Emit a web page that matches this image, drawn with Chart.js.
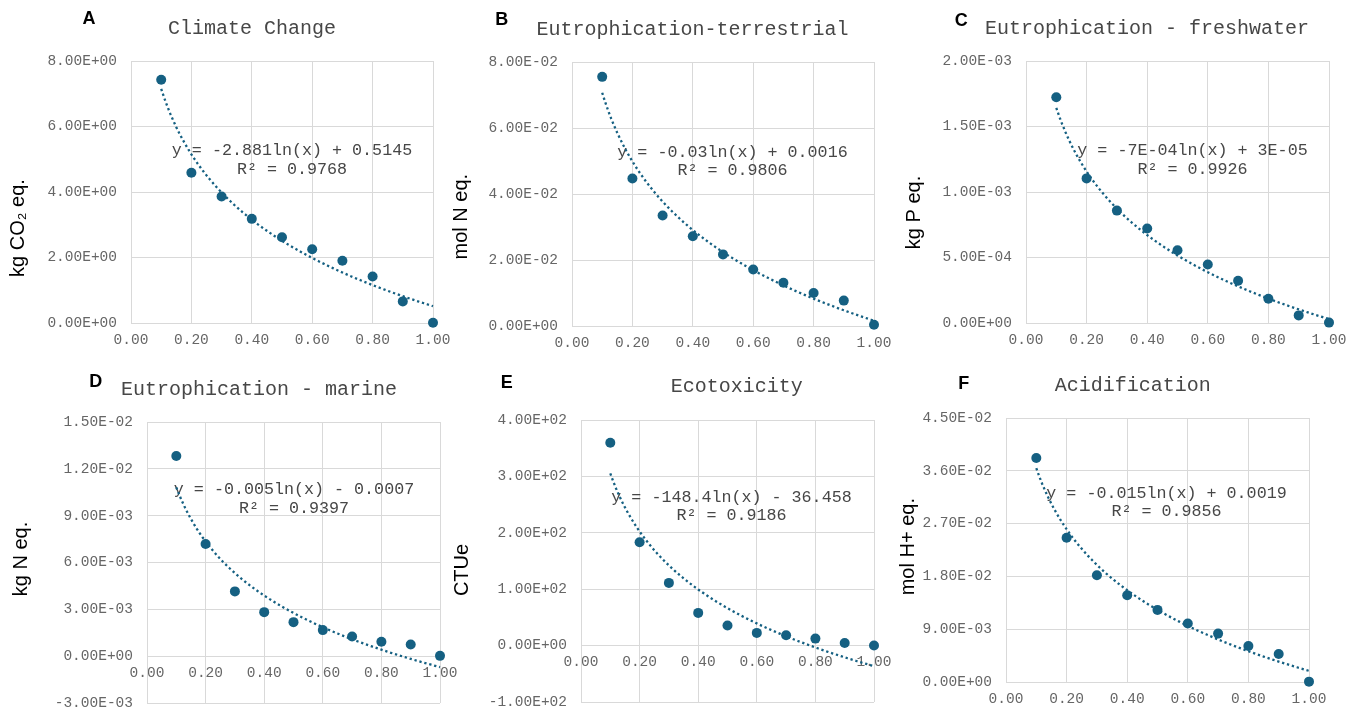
<!DOCTYPE html>
<html lang="en">
<head>
<meta charset="UTF-8">
<title>Impact categories</title>
<script src="https://cdn.jsdelivr.net/npm/chart.js"></script>
<style>
  body { margin: 0; background: #fff; }
  #wrap { position: relative; width: 1347px; height: 708px; overflow: hidden; }
  #wrap canvas { position: absolute; left: 0; top: 0; }
</style>
</head>
<body>
<div id="wrap">
  <canvas id="cA" width="1347" height="708"></canvas>
  <canvas id="cB" width="1347" height="708"></canvas>
  <canvas id="cC" width="1347" height="708"></canvas>
  <canvas id="cD" width="1347" height="708"></canvas>
  <canvas id="cE" width="1347" height="708"></canvas>
  <canvas id="cF" width="1347" height="708"></canvas>
</div>
<script>
// x values shared by all six panels
const xValues = [0.1, 0.2, 0.3, 0.4, 0.5, 0.6, 0.7, 0.8, 0.9, 1.0];
const xTicks = [0, 0.2, 0.4, 0.6, 0.8, 1.0];

// measured impacts
const climateChange    = [7.43, 4.59, 3.86, 3.18, 2.62, 2.25, 1.90, 1.42, 0.66, 0.01];
const eutroTerrestrial = [0.0755, 0.0447, 0.0335, 0.0272, 0.0217, 0.0171, 0.0131, 0.0100, 0.0077, 0.0004];
const eutroFreshwater  = [0.001723, 0.001104, 0.000858, 0.000721, 0.000556, 0.000447, 0.000322, 0.000185, 0.000058, 0.000003];
const eutroMarine      = [0.01282, 0.00718, 0.00415, 0.00282, 0.00218, 0.00167, 0.00126, 0.00092, 0.00075, 0.00002];
const ecotoxicity      = [359.8, 183.4, 111.2, 58.0, 35.5, 22.5, 18.3, 12.4, 4.7, 0.3];
const acidification    = [0.03817, 0.02458, 0.01820, 0.01479, 0.01229, 0.00996, 0.00825, 0.00614, 0.00478, 0.00006];

// y axis ticks
const yTicksA = [0, 2, 4, 6, 8];
const yTicksB = [0, 0.02, 0.04, 0.06, 0.08];
const yTicksC = [0, 0.0005, 0.001, 0.0015, 0.002];
const yTicksD = [-0.003, 0, 0.003, 0.006, 0.009, 0.012, 0.015];
const yTicksE = [-100, 0, 100, 200, 300, 400];
const yTicksF = [0, 0.009, 0.018, 0.027, 0.036, 0.045];

// log trendlines y = a*ln(x) + b
const fitA = [-2.881, 0.5145];
const fitB = [-0.03, 0.0016];
const fitC = [-7e-4, 3e-5];
const fitD = [-0.005, -0.0007];
const fitE = [-148.4, -36.458];
const fitF = [-0.015, 0.0019];

const eqA = ['y = -2.881ln(x) + 0.5145', 'R² = 0.9768'];
const eqB = ['y = -0.03ln(x) + 0.0016', 'R² = 0.9806'];
const eqC = ['y = -7E-04ln(x) + 3E-05', 'R² = 0.9926'];
const eqD = ['y = -0.005ln(x) - 0.0007', 'R² = 0.9397'];
const eqE = ['y = -148.4ln(x) - 36.458', 'R² = 0.9186'];
const eqF = ['y = -0.015ln(x) + 0.0019', 'R² = 0.9856'];

const BLUE = '#156082';
const GRID = '#d9d9d9';
const MONO = '"Liberation Mono", "Courier New", monospace';
const SANS = '"Liberation Sans", Arial, sans-serif';
const Y_AXIS_W = 120;
const X_AXIS_H = 30;

const panels = [
  { id: 'cA', letter: 'A', title: 'Climate Change', ylabel: 'kg CO₂ eq.', values: climateChange,
    yTicks: yTicksA, fit: fitA, eq: eqA, cross: false,
    area: { l: 131, t: 61, r: 433, b: 323 },
    pos: { letter: [89, 19], title: [252, 29], ylabel: [18.5, 228], eq: [292, 151] } },
  { id: 'cB', letter: 'B', title: 'Eutrophication-terrestrial', ylabel: 'mol N eq.', values: eutroTerrestrial,
    yTicks: yTicksB, fit: fitB, eq: eqB, cross: false,
    area: { l: 572, t: 62, r: 874, b: 326 },
    pos: { letter: [501.7, 20], title: [692.5, 30], ylabel: [461.7, 216.7], eq: [732.5, 152.3] } },
  { id: 'cC', letter: 'C', title: 'Eutrophication - freshwater', ylabel: 'kg P eq.', values: eutroFreshwater,
    yTicks: yTicksC, fit: fitC, eq: eqC, cross: false,
    area: { l: 1026, t: 61, r: 1329, b: 323 },
    pos: { letter: [961.3, 20.7], title: [1147, 28.3], ylabel: [914.3, 212.5], eq: [1192.5, 150.7] } },
  { id: 'cD', letter: 'D', title: 'Eutrophication - marine', ylabel: 'kg N eq.', values: eutroMarine,
    yTicks: yTicksD, fit: fitD, eq: eqD, cross: true,
    area: { l: 147, t: 422, r: 440, b: 703 },
    pos: { letter: [95.7, 381.7], title: [259, 389.3], ylabel: [21.7, 559], eq: [294, 490] } },
  { id: 'cE', letter: 'E', title: 'Ecotoxicity', ylabel: 'CTUe', values: ecotoxicity,
    yTicks: yTicksE, fit: fitE, eq: eqE, cross: true,
    area: { l: 581, t: 420, r: 874, b: 702 },
    pos: { letter: [506.7, 382.7], title: [736.7, 386.7], ylabel: [462.7, 570], eq: [731.5, 497.3] } },
  { id: 'cF', letter: 'F', title: 'Acidification', ylabel: 'mol H+ eq.', values: acidification,
    yTicks: yTicksF, fit: fitF, eq: eqF, cross: false,
    area: { l: 1006, t: 418, r: 1309, b: 682 },
    pos: { letter: [963.7, 384], title: [1132.8, 385.7], ylabel: [908.7, 546.7], eq: [1166.5, 493.3] } }
];

// Excel style scientific labels, e.g. 8.00E+00
function sci(v) {
  if (Math.abs(v) < 1e-12) return '0.00E+00';
  let e = Math.floor(Math.log10(Math.abs(v)));
  let m = Math.round(v / Math.pow(10, e) * 100) / 100;
  if (Math.abs(m) >= 10) { m /= 10; e += 1; }
  const exp = String(Math.abs(e)).padStart(2, '0');
  return (m < 0 ? '-' : '') + Math.abs(m).toFixed(2) + 'E' + (e < 0 ? '-' : '+') + exp;
}

function trendPoints(fit) {
  const pts = [];
  for (let i = 0; i <= 90; i++) {
    const x = 0.1 + i * 0.01;
    pts.push({ x: x, y: fit[0] * Math.log(x) + fit[1] });
  }
  return pts;
}

function drawLabels(ctx, p) {
  ctx.save();
  ctx.textAlign = 'center';
  ctx.textBaseline = 'middle';

  ctx.fillStyle = '#000';
  ctx.font = 'bold 18px ' + SANS;
  ctx.fillText(p.letter, p.pos.letter[0], p.pos.letter[1]);

  ctx.fillStyle = '#474747';
  ctx.font = '20px ' + MONO;
  ctx.fillText(p.title, p.pos.title[0], p.pos.title[1]);

  ctx.font = '16.7px ' + MONO;
  ctx.fillText(p.eq[0], p.pos.eq[0], p.pos.eq[1]);
  ctx.fillText(p.eq[1], p.pos.eq[0], p.pos.eq[1] + 18.7);

  ctx.translate(p.pos.ylabel[0], p.pos.ylabel[1]);
  ctx.rotate(-Math.PI / 2);
  ctx.fillStyle = '#000';
  ctx.font = '20px ' + SANS;
  ctx.fillText(p.ylabel, 0, 0);
  ctx.restore();
}

panels.forEach(function (p) {
  const a = p.area;
  const xH = p.cross ? 0 : X_AXIS_H;
  const tickFont = { family: MONO, size: 14.5 };

  new Chart(document.getElementById(p.id), {
    type: 'scatter',
    data: {
      datasets: [
        {
          data: xValues.map((x, i) => ({ x: x, y: p.values[i] })),
          pointRadius: 5,
          pointHoverRadius: 5,
          pointBackgroundColor: BLUE,
          pointBorderWidth: 0,
          clip: false
        },
        {
          data: trendPoints(p.fit),
          showLine: true,
          pointRadius: 0,
          borderColor: BLUE,
          borderWidth: 2.3,
          borderDash: [2.3, 2.8],
          tension: 0,
          clip: false
        }
      ]
    },
    options: {
      responsive: false,
      animation: false,
      events: [],
      layout: {
        padding: {
          left: a.l - Y_AXIS_W,
          top: a.t,
          right: 1347 - a.r,
          bottom: 708 - a.b - xH
        }
      },
      plugins: { legend: { display: false }, tooltip: { enabled: false } },
      scales: {
        x: {
          type: 'linear',
          min: 0,
          max: 1,
          position: p.cross ? { y: 0 } : 'bottom',
          afterBuildTicks: s => { s.ticks = xTicks.map(v => ({ value: v })); },
          afterFit: s => { s.height = xH; s.paddingLeft = 0; s.paddingRight = 0; },
          grid: { color: GRID, lineWidth: 1, drawTicks: false },
          border: { color: GRID, width: 1 },
          ticks: {
            padding: 8, color: '#666666', font: tickFont, maxRotation: 0, autoSkip: false,
            callback: v => Number(v).toFixed(2)
          }
        },
        y: {
          type: 'linear',
          min: p.yTicks[0],
          max: p.yTicks[p.yTicks.length - 1],
          afterBuildTicks: s => { s.ticks = p.yTicks.map(v => ({ value: v })); },
          afterFit: s => { s.width = Y_AXIS_W; s.paddingTop = 0; s.paddingBottom = 0; },
          grid: { color: GRID, lineWidth: 1, drawTicks: false },
          border: { color: GRID, width: 1 },
          ticks: {
            padding: 14, color: '#666666', font: tickFont, autoSkip: false,
            callback: v => sci(v)
          }
        }
      }
    },
    plugins: [{
      id: 'panelLabels',
      beforeDatasetsDraw(chart) { drawLabels(chart.ctx, p); }
    }]
  });
});
</script>
</body>
</html>
